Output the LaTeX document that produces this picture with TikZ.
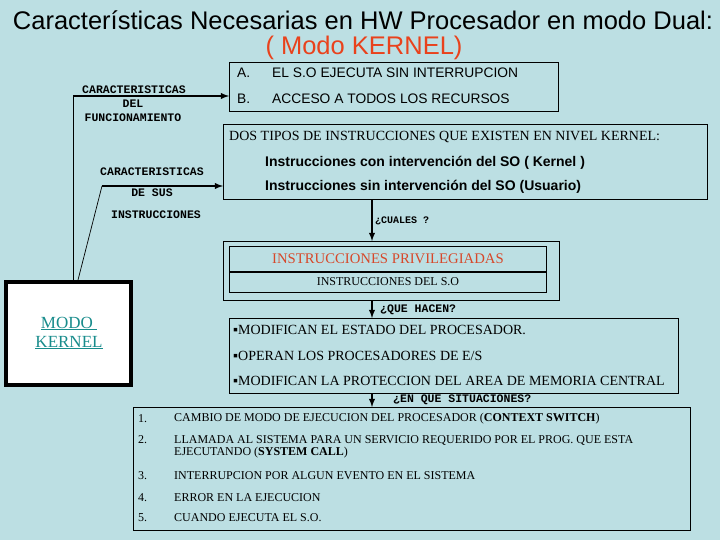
\documentclass[tikz,border=0pt]{standalone}
\usepackage{fontspec}
\setmainfont{Liberation Serif}
\setsansfont{Liberation Sans}
\setmonofont{Liberation Mono}
\usetikzlibrary{arrows}
\definecolor{fondo}{RGB}{188,223,227}
\definecolor{naranja}{RGB}{233,66,28}
\definecolor{ladrillo}{RGB}{215,72,42}
\definecolor{turquesa}{RGB}{24,140,140}
\tikzset{
every picture/.style={x=1pt,y=-1pt},
caja/.style={draw, line width=0.9pt, inner sep=0pt, anchor=north west},
etiq/.style={font=\ttfamily\bfseries\fontsize{11.5}{13}\selectfont, inner sep=0pt},
renglon/.style={font=\fontsize{12}{14}\selectfont, inner sep=0pt, anchor=west},
sanstxt/.style={font=\sffamily\fontsize{13.8}{15}\selectfont, inner sep=0pt, anchor=west},
flecha/.style={-latex, line width=1.8pt}
}

\begin{document}
\begin{tikzpicture}
    \fill[fondo] (0,0) rectangle (720,540);
    \useasboundingbox (0,0) rectangle (720,540);

    \node[font=\sffamily\fontsize{25.5}{28}\selectfont] (tit1) at (363,20) {Características Necesarias en HW Procesador en modo Dual:};
    \node[font=\sffamily\fontsize{25.5}{28}\selectfont, text=naranja] (tit2) at (364,48) {( Modo KERNEL)};

    \node[caja, minimum width=329pt, minimum height=49pt] (ab) at (229,62) {};
    \node[caja, minimum width=484pt, minimum height=75pt] (dos) at (223,124) {};
    \node[caja, minimum width=336pt, minimum height=59pt] (priv) at (223,241) {};
    \node[caja, minimum width=317pt, minimum height=25pt] (privA) at (229,246) {};
    \node[caja, minimum width=317pt, minimum height=21pt] (privB) at (229,271) {};
    \draw[line width=2.2pt] (privA.south west) -- (privA.south east);
    \node[caja, minimum width=449pt, minimum height=75pt] (hacen) at (229,318) {};
    \node[caja, minimum width=557pt, minimum height=123pt] (sit) at (133,407) {};
    \node[caja, line width=4pt, fill=white, minimum width=125pt, minimum height=103pt] (modo) at (4,280) {};

    \node[font=\fontsize{17}{19}\selectfont, text=turquesa, align=center, inner sep=0pt] (modoT) at (69,333) {\underline{MODO\ }\\\underline{KERNEL}};

    \foreach \l/\y/\t in {A./73/{EL S.O EJECUTA SIN INTERRUPCION}, B./99/{ACCESO A TODOS LOS RECURSOS}} {
      \node[sanstxt] (l\y) at (237,\y) {\l};
      \node[sanstxt] (t\y) at (272,\y) {\t};
    }

    \node[renglon, font=\fontsize{14}{15}\selectfont] (dos0) at (229,137) {DOS TIPOS DE INSTRUCCIONES QUE EXISTEN EN NIVEL KERNEL:};
    \node[sanstxt, font=\sffamily\bfseries\fontsize{14}{15}\selectfont] (dos1) at (265,163) {Instrucciones con intervención del SO ( Kernel )};
    \node[sanstxt, font=\sffamily\bfseries\fontsize{14}{15}\selectfont] (dos2) at (265,187) {Instrucciones sin intervención del SO (Usuario)};

    \node[font=\fontsize{14.7}{16}\selectfont, text=ladrillo, inner sep=0pt] (privT) at (privA.center) {INSTRUCCIONES PRIVILEGIADAS};
    \node[font=\fontsize{12}{14}\selectfont, inner sep=0pt] (privS) at (privB.center) {INSTRUCCIONES DEL S.O};

    \foreach \y/\t in {330/{MODIFICAN EL ESTADO DEL PROCESADOR.}, 356/{OPERAN LOS PROCESADORES DE E/S}, 381/{MODIFICAN LA PROTECCION DEL AREA DE MEMORIA CENTRAL}} {
      \node[renglon, font=\fontsize{14}{15}\selectfont] (h\y) at (233,\y) {▪\t};
    }

    \foreach \n/\y/\t in {1/419/{CAMBIO DE MODO DE EJECUCION DEL PROCESADOR (\textbf{CONTEXT SWITCH})},
                          2/440/{LLAMADA AL SISTEMA PARA UN SERVICIO REQUERIDO POR EL PROG. QUE ESTA},
                          3/476/{INTERRUPCION POR ALGUN EVENTO EN EL SISTEMA},
                          4/498/{ERROR EN LA EJECUCION},
                          5/518/{CUANDO EJECUTA EL S.O.}} {
      \node[renglon] (n\n) at (138,\y) {\n.};
      \node[renglon] (s\n) at (174,\y) {\t};
    }
    \node[renglon] (s2b) at (174,453) {EJECUTANDO (\textbf{SYSTEM CALL})};

    \node[etiq] (func1) at (134,90) {CARACTERISTICAS};
    \node[etiq] (func2) at (133,104) {DEL};
    \node[etiq] (func3) at (133,118) {FUNCIONAMIENTO};
    \node[etiq] (inst1) at (152,172) {CARACTERISTICAS};
    \node[etiq] (inst2) at (152,193) {DE SUS};
    \node[etiq] (inst3) at (156,215) {INSTRUCCIONES};

    \coordinate (esq1) at (73,96);
    \coordinate (esq2) at (102,186);
    \coordinate (pie2) at (78,0);
    \coordinate (eje) at (372,0);
    \draw[line width=1pt] (modo.north -| esq1) -- (esq1);
    \draw[flecha] (esq1) -- (ab.west |- esq1);
    \draw[line width=0.7pt] (modo.north -| pie2) -- (esq2);
    \draw[flecha] (esq2) -- (dos.west |- esq2);
    \draw[flecha] (dos.south -| eje) -- (priv.north -| eje);
    \draw[flecha] (priv.south -| eje) -- (hacen.north -| eje);
    \draw[flecha] (hacen.south -| eje) -- (sit.north -| eje);

    \node[etiq, font=\ttfamily\bfseries\fontsize{10}{12}\selectfont, anchor=west] (cuales) at (375,221) {¿CUALES ?};
    \node[etiq, anchor=west] (quehacen) at (380,310) {¿QUE HACEN?};
    \node[etiq, anchor=west] (situac) at (393,400) {¿EN QUE SITUACIONES?};
  \end{tikzpicture}
\end{document}
